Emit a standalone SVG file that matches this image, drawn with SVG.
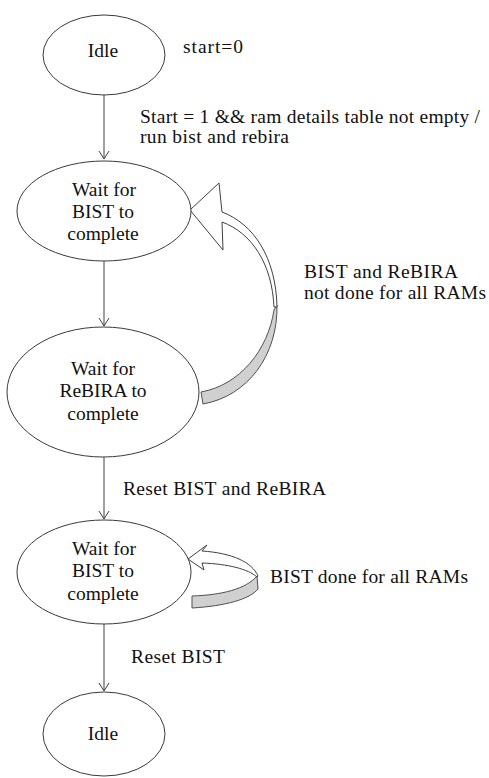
<svg xmlns="http://www.w3.org/2000/svg" width="489" height="778" viewBox="0 0 489 778">
<style>
.st{fill:#fff;stroke:#3a3a3a;stroke-width:1}
text{font-family:'Liberation Serif','Times New Roman','DejaVu Serif',serif;font-size:19.5px;fill:#111}
.c{text-anchor:middle}
.e{fill:none;stroke:#404040;stroke-width:1}
.bw{fill:#fff;stroke:#404040;stroke-width:1}
.bg{fill:#d0d0d0;stroke:#505050;stroke-width:1}
</style>
<defs>
<marker id="ah" markerWidth="12" markerHeight="12" refX="10" refY="6" orient="auto" markerUnits="userSpaceOnUse">
<path d="M2,1 L10,6 L2,11" fill="none" stroke="#404040" stroke-width="1"/>
</marker>
</defs>
<rect width="489" height="778" fill="#fff"/>
<g id="connectors">
<line class="e" x1="104" y1="95" x2="104" y2="159" marker-end="url(#ah)"/>
<line class="e" x1="104" y1="261" x2="104" y2="326" marker-end="url(#ah)"/>
<line class="e" x1="104" y1="457" x2="104" y2="519" marker-end="url(#ah)"/>
<line class="e" x1="104" y1="624" x2="104" y2="691" marker-end="url(#ah)"/>
<g id="loop1">
<path class="bg" d="M277,305 C278,355 248,396 203,404 L201,392 C240,385 268,350 274,310 Z"/>
<path class="bw" d="M222,212 L219,183 L190,210 L223,250 L222,222 C252,233 272,264 274,307 L277,307 C276,258 254,224 222,212 Z"/>
</g>
<g id="loop2">
<path class="bg" d="M257,576 C246,589 222,595 192,596 L192,608 C226,606 250,599 258,589 Z"/>
<path class="bw" d="M202,551 L207,545 L188,559 L204,570 L202,563 C228,564 248,569 257,577 L258,576 C252,562 232,553 202,551 Z"/>
</g>
<text x="183" y="53" textLength="60">start=0</text>
<text x="140" y="123" textLength="340">Start = 1 &amp;&amp; ram details table not empty /</text>
<text x="140" y="143" textLength="149">run bist and rebira</text>
<text x="304" y="278" textLength="154">BIST and ReBIRA</text>
<text x="304" y="299" textLength="182">not done for all RAMs</text>
<text x="123" y="495" textLength="203">Reset BIST and ReBIRA</text>
<text x="270" y="583" textLength="198">BIST done for all RAMs</text>
<text x="131" y="663" textLength="94">Reset BIST</text>
</g>
<g id="idle1">
<ellipse class="st" cx="104" cy="55" rx="61" ry="40"/>
<text class="c" x="103" y="57">Idle</text>
</g>
<g id="waitBist1">
<ellipse class="st" cx="104" cy="211" rx="87" ry="50"/>
<text class="c" x="104" y="196">Wait for</text>
<text class="c" x="103" y="218">BIST to</text>
<text class="c" x="103" y="240">complete</text>
</g>
<g id="waitRebira">
<ellipse class="st" cx="103" cy="392" rx="96" ry="65"/>
<text class="c" x="103" y="375">Wait for</text>
<text class="c" x="103" y="397">ReBIRA to</text>
<text class="c" x="103" y="420">complete</text>
</g>
<g id="waitBist2">
<ellipse class="st" cx="104" cy="572" rx="87" ry="52"/>
<text class="c" x="104" y="555">Wait for</text>
<text class="c" x="103" y="577">BIST to</text>
<text class="c" x="103" y="600">complete</text>
</g>
<g id="idle2">
<ellipse class="st" cx="104" cy="734" rx="61" ry="42"/>
<text class="c" x="103" y="740">Idle</text>
</g>
</svg>
